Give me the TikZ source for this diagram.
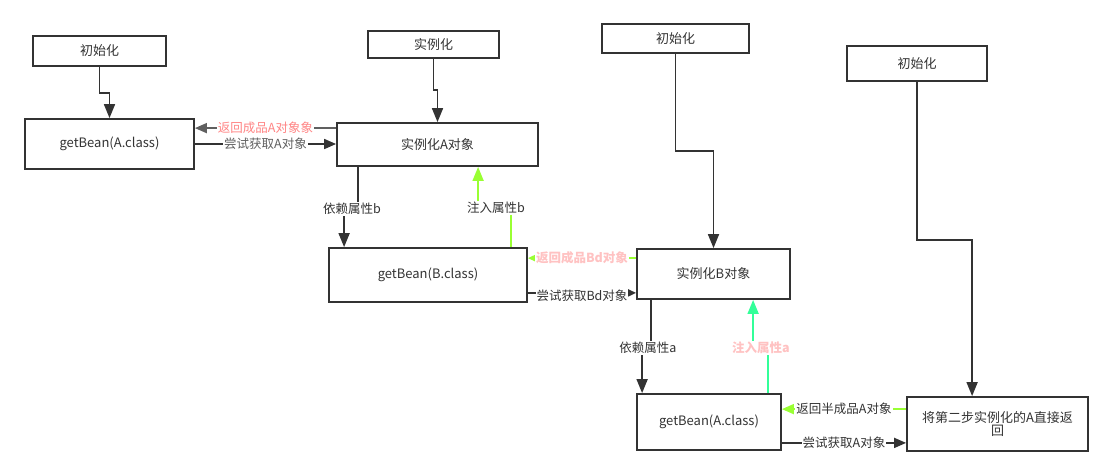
\documentclass[tikz,border=0pt]{standalone}
\usepackage{fontspec}
\setmainfont{Noto Sans CJK SC}
\usepackage{xcolor}
\usepackage{tikz}
\usetikzlibrary{positioning,calc,arrows.meta}

\definecolor{boxgray}{HTML}{333333}
\definecolor{tipgray}{HTML}{606060}
\definecolor{redtxt}{HTML}{FF8585}
\definecolor{pinktxt}{HTML}{FFC2C2}
\definecolor{limeline}{HTML}{99FF33}
\definecolor{tealline}{HTML}{33FF99}

\tikzset{
    blk/.style={draw=boxgray, line width=1.8pt, text=boxgray, font=\fontsize{13}{16}\selectfont, inner sep=2pt},
    arr/.style={draw=boxgray, line width=1.7pt, -{Triangle[length=14pt,width=11pt]}},
    smallarr/.style={line width=1.7pt, -{Triangle[length=8pt,width=7pt]}},
    lbl/.style={fill=white, inner sep=1pt, text=boxgray, font=\fontsize{12.5}{14}\selectfont}
}

\begin{document}
\begin{tikzpicture}[x=1pt, y=-1pt]
    \useasboundingbox (0,0) rectangle (1113,475);

    % Boxes
    \node[blk, minimum width=133pt, minimum height=30pt] (init1) at (99.5,51) {初始化};
    \node[blk, minimum width=169pt, minimum height=50pt] (getA1) at (109.5,144) {getBean(A.class)};
    \node[blk, minimum width=131pt, minimum height=27pt] (inst) at (433.5,44.5) {实例化};
    \node[blk, minimum width=201pt, minimum height=43pt] (instA) at (437.5,144.5) {实例化A对象};
    \node[blk, minimum width=198pt, minimum height=54pt] (getB) at (428,275) {getBean(B.class)};
    \node[blk, minimum width=147pt, minimum height=29pt] (init2) at (675.5,38.5) {初始化};
    \node[blk, minimum width=153pt, minimum height=50pt] (instB) at (713.5,274) {实例化B对象};
    \node[blk, minimum width=144pt, minimum height=56pt] (getA2) at (709,422) {getBean(A.class)};
    \node[blk, minimum width=140pt, minimum height=35pt] (init3) at (917,63.5) {初始化};
    \node[blk, minimum width=181pt, minimum height=54pt, text width=172pt, align=center] (ret) at (997.5,424) {将第二步实例化的A直接返\\[-3pt]回};

    % Downward flow from the top boxes
    \draw[arr] (init1.south) -- ++(0,26) -| (getA1.north);
    \draw[arr] (inst.south) -- ++(0,31) -| (instA.north);
    \draw[arr] (init2.south) -- ++(0,97) -| (instB.north);
    \draw[arr] (init3.south) -- ++(0,158) -| ([xshift=66pt]ret.north west);

    % getBean(A) <-> instance A
    \coordinate (rA) at ([yshift=-6pt]instA.north west);
    \draw[smallarr, draw=tipgray, -{Triangle[length=12pt,width=10pt]}] (rA) -- (rA -| getA1.east)
        node[midway, lbl, text=redtxt] {返回成品A对象象};
    \draw[arr, -{Triangle[length=12pt,width=10pt]}] (getA1.east) -- (getA1.east -| instA.west)
        node[midway, lbl, text=tipgray] {尝试获取A对象};

    % instance A -> getBean(B) and back
    \coordinate (depB) at (352,209);
    \draw[arr] ([xshift=22pt]instA.south west) |- (depB) -| ([xshift=16pt]getB.north west);
    \node[lbl] at (depB) {依赖属性b};
    \coordinate (injB) at (496,208);
    \draw[arr, draw=limeline, -{Triangle[length=14pt,width=11pt,fill=limeline]}] ([xshift=183pt]getB.north west) |- (injB) -| ([xshift=142pt]instA.south west);
    \node[lbl] at (injB) {注入属性b};

    % getBean(B) <-> instance B
    \coordinate (rB) at ([yshift=-10pt]instB.north west);
    \draw[smallarr, draw=limeline] (rB) -- (rB -| getB.east)
        node[midway, lbl, text=pinktxt, font=\bfseries\fontsize{12.5}{14}\selectfont] {返回成品Bd对象};
    \coordinate (tB) at ([yshift=10pt]getB.south east);
    \draw[smallarr, draw=boxgray] (tB) -- (tB -| instB.west)
        node[midway, lbl, yshift=-3pt] {尝试获取Bd对象};

    % instance B -> getBean(A) and back
    \coordinate (depA) at (648,348);
    \draw[arr] ([xshift=15pt]instB.south west) |- (depA) -| ([xshift=6pt]getA2.north west);
    \node[lbl] at (depA) {依赖属性a};
    \coordinate (injA) at (761,348);
    \draw[arr, draw=tealline, -{Triangle[length=14pt,width=11pt,fill=tealline]}] ([xshift=132pt]getA2.north west) |- (injA) -| ([xshift=117pt]instB.south west);
    \node[lbl, text=pinktxt, font=\bfseries\fontsize{12.5}{14}\selectfont] at (injA) {注入属性a};

    % getBean(A) <-> early instance
    \coordinate (rC) at ([yshift=-13pt]ret.north west);
    \draw[smallarr, draw=limeline, -{Triangle[length=12pt,width=10pt]}] (rC) -- (rC -| getA2.east)
        node[midway, lbl] {返回半成品A对象};
    \coordinate (tC) at ([yshift=8pt]getA2.south east);
    \draw[arr, -{Triangle[length=12pt,width=10pt]}] (tC) -- (tC -| ret.west)
        node[midway, lbl] {尝试获取A对象};
\end{tikzpicture}
\end{document}
